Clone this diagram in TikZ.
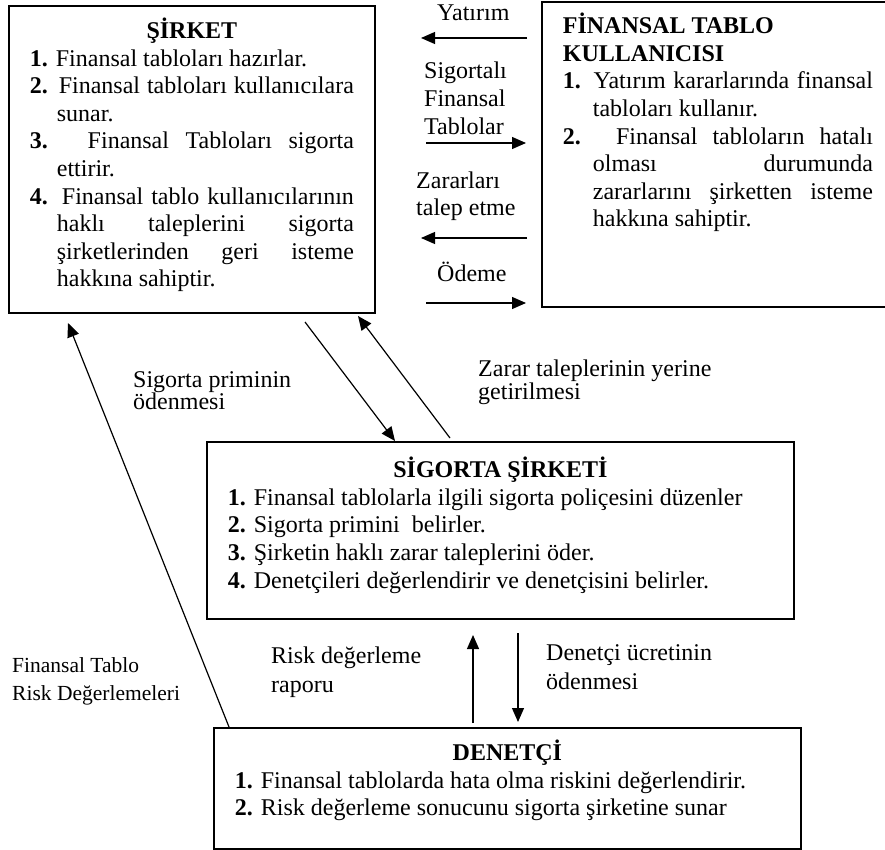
\documentclass[tikz,border=0pt]{standalone}
\usepackage{fontspec}
\setmainfont{Liberation Serif}
\usetikzlibrary{arrows.meta}

\newlength{\girinti}
\newcommand{\madde}[2]{\par\hangindent=\girinti\hangafter=1\noindent\textbf{#1.} #2}

\tikzset{
  kutu/.style 2 args={draw, line width=1.8pt, anchor=north west, inner xsep=21pt,
    execute at begin node={\begin{minipage}[t][#2pt][t]{#1pt}\fontsize{24}{27.6}\selectfont
      \hbadness=10000\hyphenpenalty=10000},
    execute at end node={\end{minipage}}},
  ok/.style={line width=1.2pt, -{Triangle[length=14pt,width=12pt]}},
  etiket/.style={inner sep=0pt, anchor=west, align=left, font=\fontsize{24}{#1}\selectfont},
  etiket/.default=28
}

\begin{document}
\begin{tikzpicture}[x=1pt,y=-1pt]
  \useasboundingbox (0,0) rectangle (885,850);

  % boxes
  \node(sirket)[kutu={324}{283}, inner ysep=12pt] at (8,5){%
    \setlength{\girinti}{27pt}%
    {\centering\bfseries ŞİRKET\par}
    \madde{1}{Finansal tabloları hazırlar.}
    \madde{2}{Finansal tabloları kullanıcılara\linebreak sunar.}
    \madde{3}{Finansal Tabloları sigorta\linebreak ettirir.}
    \madde{4}{Finansal tablo kullanıcılarının\linebreak haklı taleplerini sigorta\linebreak
      şirketlerinden geri isteme\linebreak hakkına sahiptir.}\par};
  \node(kullanici)[kutu={310}{282.4}, inner ysep=11.3pt] at (541,1){%
    \setlength{\girinti}{30pt}%
    {\raggedright\bfseries FİNANSAL TABLO\\KULLANICISI\par}
    \madde{1}{Yatırım kararlarında finansal\linebreak tabloları kullanır.}
    \madde{2}{Finansal tabloların hatalı\linebreak olması durumunda\linebreak
      zararlarını şirketten isteme\linebreak hakkına sahiptir.}\par};
  \node(sigorta)[kutu={545}{146.4}, inner ysep=15.3pt] at (206,441){%
    \setlength{\girinti}{27pt}%
    {\centering\bfseries SİGORTA ŞİRKETİ\par}
    \madde{1}{Finansal tablolarla ilgili sigorta poliçesini düzenler}
    \madde{2}{Sigorta primini\ \ belirler.}
    \madde{3}{Şirketin haklı zarar taleplerini öder.}
    \madde{4}{Denetçileri değerlendirir ve denetçisini belirler.}\par};
  \node(denetci)[kutu={545}{96.4}, inner ysep=12.3pt] at (213,727){%
    \setlength{\girinti}{27pt}%
    {\centering\bfseries DENETÇİ\par}
    \madde{1}{Finansal tablolarda hata olma riskini değerlendirir.}
    \madde{2}{Risk değerleme sonucunu sigorta şirketine sunar}\par};

  % arrows between sirket and kullanici
  \coordinate(yatirim_a) at (527,38);
  \coordinate(yatirim_b) at (421,38);
  \coordinate(tablolar_a) at (426,143);
  \coordinate(tablolar_b) at (526,143);
  \coordinate(talep_a) at (527,238);
  \coordinate(talep_b) at (421,238);
  \coordinate(odeme_a) at (426,303);
  \coordinate(odeme_b) at (526,303);
  \draw[ok] (yatirim_a) -- (yatirim_b);
  \draw[ok] (tablolar_a) -- (tablolar_b);
  \draw[ok] (talep_a) -- (talep_b);
  \draw[ok] (odeme_a) -- (odeme_b);

  \node(l_yatirim)[etiket] at (437,13){Yatırım};
  \node(l_tablolar)[etiket] at (424,98){Sigortalı\\Finansal\\Tablolar};
  \node(l_talep)[etiket=27] at (416,196.5){Zararları\\talep etme};
  \node(l_odeme)[etiket] at (437,272){Ödeme};

  % arrows to and from sigorta
  \coordinate(prim_a) at (305,322);
  \coordinate(zarar_b) at (358,316);
  \draw[ok] (prim_a) -- ([xshift=189pt]sigorta.north west);
  \draw[ok] ([shift={(244,-3)}]sigorta.north west) -- (zarar_b);
  \node(l_prim)[etiket=22] at (133,391){Sigorta priminin\\ödenmesi};
  \node(l_zarar)[etiket=21] at (478,382.5){Zarar taleplerinin yerine\\getirilmesi};

  % arrows between sigorta and denetci
  \coordinate(rapor_b) at (473,635);
  \coordinate(ucret_a) at (518,633);
  \draw[ok] ([shift={(260,-4)}]denetci.north west) -- (rapor_b);
  \draw[ok] (ucret_a) -- ([shift={(305,-5)}]denetci.north west);
  \node(l_rapor)[etiket=29] at (271,672.5){Risk değerleme\\raporu};
  \node(l_ucret)[etiket=29] at (546,667.5){Denetçi ücretinin\\ödenmesi};

  % denetci to sirket
  \coordinate(risk_b) at (68,323);
  \draw[ok] ([xshift=16pt]denetci.north west) -- (risk_b);
  \node(l_risk)[etiket, font=\fontsize{21.5}{28}\selectfont] at (12,681){Finansal Tablo\\Risk Değerlemeleri};
\end{tikzpicture}
\end{document}
